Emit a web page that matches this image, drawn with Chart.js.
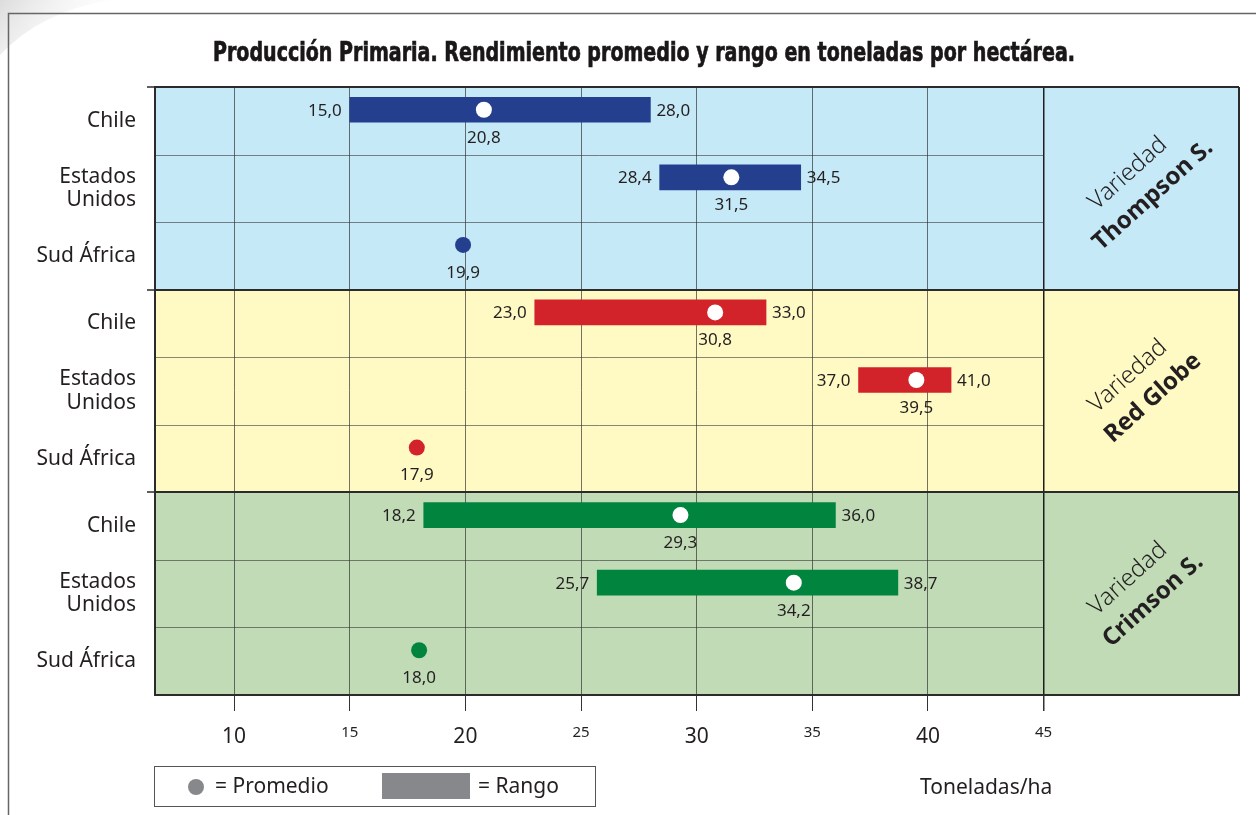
<!DOCTYPE html>
<html lang="es">
<head>
<meta charset="utf-8">
<title>Producción Primaria</title>
<script src="https://cdn.jsdelivr.net/npm/chart.js@4.4.0/dist/chart.umd.min.js"></script>
<style>
  html, body { margin: 0; padding: 0; background: #fff; }
  canvas { display: block; }
</style>
</head>
<body>
<canvas id="chart" width="1256" height="815"></canvas>
<script>
// Datos
const variedades = ['Thompson S.', 'Red Globe', 'Crimson S.'];
const paises = ['Chile', ['Estados', 'Unidos'], 'Sud África'];
const rangoMin = [15.0, 28.4, null, 23.0, 37.0, null, 18.2, 25.7, null];
const rangoMax = [28.0, 34.5, null, 33.0, 41.0, null, 36.0, 38.7, null];
const promedio = [20.8, 31.5, 19.9, 30.8, 39.5, 17.9, 29.3, 34.2, 18.0];
const ticksX = [10, 15, 20, 25, 30, 35, 40, 45];

// Estilos
const colorVariedad = ['#253f8f', '#d2232a', '#00843e'];
const fondoVariedad = ['#c6e9f8', '#fff9c4', '#c1dbb7'];
const FONT = "'Noto Sans', 'Open Sans', sans-serif";
const TITLE_FONT = "'Liberation Sans Narrow', 'DejaVu Sans Condensed', 'Liberation Sans', sans-serif";
const INK = '#231f20';
const GRIS = '#87888c';
const subir = -11; // barras y puntos van un poco arriba del centro de la fila

const filas = variedades.flatMap(() => paises);
const rangos = rangoMin.map((lo, i) => lo === null ? null : [lo, rangoMax[i]]);
const colorFila = filas.map((_, i) => colorVariedad[Math.floor(i / 3)]);
const colorPunto = promedio.map((_, i) => rangoMin[i] === null ? colorFila[i] : '#ffffff');

function coma(v) {
  return v.toFixed(1).replace('.', ',');
}

const decorado = {
  id: 'decorado',
  beforeDraw(chart) {
    const { ctx, chartArea: a, scales: { y } } = chart;
    ctx.save();
    ctx.fillStyle = '#fff';
    ctx.fillRect(0, 0, chart.width, chart.height);

    // esquina gris de la página
    let g = ctx.createLinearGradient(0, 0, 90, 70);
    g.addColorStop(0, 'rgba(205,205,205,0.7)');
    g.addColorStop(1, 'rgba(255,255,255,0)');
    ctx.fillStyle = g;
    ctx.beginPath();
    ctx.moveTo(0, 0);
    ctx.lineTo(110, 0);
    ctx.quadraticCurveTo(40, 12, 0, 55);
    ctx.closePath();
    ctx.fill();

    // marco
    ctx.strokeStyle = '#666';
    ctx.lineWidth = 1.5;
    ctx.beginPath();
    ctx.moveTo(8.5, chart.height);
    ctx.lineTo(8.5, 13.5);
    ctx.lineTo(chart.width, 13.5);
    ctx.stroke();

    // fondos por variedad
    const h = y.getPixelForValue(1) - y.getPixelForValue(0);
    variedades.forEach((v, b) => {
      const top = y.getPixelForValue(b * 3) - h / 2;
      const bot = y.getPixelForValue(b * 3 + 2) + h / 2;
      ctx.fillStyle = fondoVariedad[b];
      ctx.fillRect(a.left, top, a.right - a.left, bot - top);
    });
    ctx.restore();
  },
  beforeDatasetsDraw(chart) {
    const { ctx, chartArea: a, scales: { x, y } } = chart;
    // líneas entre filas, solo hasta 45
    ctx.save();
    ctx.strokeStyle = 'rgba(40,40,40,0.55)';
    ctx.lineWidth = 1;
    const x45 = x.getPixelForValue(45);
    for (let i = 1; i < filas.length; i++) {
      if (i % 3 === 0) continue;
      const yy = Math.round((y.getPixelForValue(i - 1) + y.getPixelForValue(i)) / 2) + 0.5;
      ctx.beginPath();
      ctx.moveTo(a.left, yy);
      ctx.lineTo(x45, yy);
      ctx.stroke();
    }
    ctx.restore();
    ctx.save();
    ctx.translate(0, subir);
  },
  afterDatasetsDraw(chart) {
    const { ctx, chartArea: a } = chart;
    const barras = chart.getDatasetMeta(0).data;
    const puntos = chart.getDatasetMeta(1).data;
    ctx.font = '17px ' + FONT;
    ctx.fillStyle = INK;
    ctx.textBaseline = 'middle';
    barras.forEach((el, i) => {
      if (rangos[i] === null) return;
      const p = el.getProps(['x', 'y', 'base'], true);
      ctx.textAlign = 'right';
      ctx.fillText(coma(rangoMin[i]), p.base - 8, p.y + 1);
      ctx.textAlign = 'left';
      ctx.fillText(coma(rangoMax[i]), p.x + 6, p.y + 1);
    });
    puntos.forEach((el, i) => {
      ctx.textAlign = 'center';
      ctx.fillText(coma(promedio[i]), el.x, el.y + 28);
    });
    ctx.restore();

    // borde derecho
    ctx.save();
    ctx.strokeStyle = '#2b2b2b';
    ctx.lineWidth = 2;
    ctx.beginPath();
    ctx.moveTo(a.right, a.top);
    ctx.lineTo(a.right, a.bottom);
    ctx.stroke();
    ctx.restore();
  },
  afterDraw(chart) {
    const { ctx, chartArea: a, scales: { x, y } } = chart;
    ctx.save();

    // título
    const titulo = 'Producción Primaria. Rendimiento promedio y rango en toneladas por hectárea.';
    ctx.font = 'bold 27px ' + TITLE_FONT;
    ctx.fillStyle = '#1a1718';
    ctx.strokeStyle = '#1a1718';
    ctx.lineWidth = 0.7;
    ctx.textAlign = 'center';
    ctx.textBaseline = 'alphabetic';
    const w = ctx.measureText(titulo).width;
    ctx.save();
    ctx.translate(644, 61);
    ctx.scale(862 / w, 1);
    ctx.fillText(titulo, 0, 0);
    ctx.strokeText(titulo, 0, 0);
    ctx.restore();

    // nombres de variedad en el panel derecho
    const cx = (x.getPixelForValue(45) + a.right) / 2;
    variedades.forEach((v, b) => {
      const cy = (y.getPixelForValue(b * 3) + y.getPixelForValue(b * 3 + 2)) / 2;
      ctx.save();
      ctx.translate(cx, cy);
      ctx.rotate(-42 * Math.PI / 180);
      ctx.textAlign = 'center';
      ctx.textBaseline = 'middle';
      ctx.fillStyle = INK;
      ctx.font = '300 24px ' + FONT;
      ctx.fillText('Variedad', 0, -20);
      ctx.font = 'bold 24px ' + FONT;
      ctx.fillText(v, 4, 13);
      ctx.restore();
    });

    // leyenda
    ctx.strokeStyle = '#555';
    ctx.lineWidth = 1;
    ctx.strokeRect(154.5, 766.5, 441, 40);
    ctx.fillStyle = GRIS;
    ctx.beginPath();
    ctx.arc(196, 787, 8, 0, Math.PI * 2);
    ctx.fill();
    ctx.fillRect(382, 773, 88, 26);
    ctx.fillStyle = INK;
    ctx.font = '21px ' + FONT;
    ctx.textAlign = 'left';
    ctx.textBaseline = 'middle';
    ctx.fillText('= Promedio', 215, 787);
    ctx.fillText('= Rango', 478, 787);
    ctx.fillText('Toneladas/ha', 920, 788);
    ctx.restore();
  }
};

new Chart(document.getElementById('chart'), {
  type: 'bar',
  data: {
    labels: filas,
    datasets: [
      {
        type: 'bar',
        data: rangos,
        backgroundColor: colorFila,
        borderWidth: 0,
        borderSkipped: false,
        barThickness: 25,
        order: 1
      },
      {
        type: 'line',
        indexAxis: 'y',
        data: promedio,
        showLine: false,
        pointStyle: 'circle',
        pointRadius: 8,
        pointHoverRadius: 8,
        pointBorderWidth: 0,
        pointBackgroundColor: colorPunto,
        pointBorderColor: colorPunto,
        order: 0
      }
    ]
  },
  options: {
    indexAxis: 'y',
    responsive: false,
    animation: false,
    events: [],
    layout: { padding: { top: 87, right: 17, bottom: 0, left: 0 } },
    plugins: {
      legend: { display: false },
      title: { display: false },
      tooltip: { enabled: false }
    },
    scales: {
      x: {
        type: 'linear',
        min: 6.58,
        max: 53.45,
        afterBuildTicks: s => { s.ticks = ticksX.map(v => ({ value: v })); },
        afterFit: s => { s.height = 120; },
        border: { display: true, color: '#2b2b2b', width: 2 },
        grid: {
          color: c => c.tick && c.tick.value === 45 ? '#1e1e1e' : 'rgba(30,30,30,0.62)',
          lineWidth: c => c.tick && c.tick.value === 45 ? 1.5 : 1,
          tickColor: '#333',
          tickLength: 16
        },
        ticks: {
          padding: 13,
          color: INK,
          callback: v => String(v),
          font: c => ({ family: FONT, size: c.tick && c.tick.value % 10 === 0 ? 21 : 15 })
        }
      },
      y: {
        type: 'category',
        offset: true,
        afterFit: s => { s.width = 155; },
        border: { display: true, color: '#2b2b2b', width: 2 },
        grid: {
          offset: true,
          color: c => (c.index !== undefined && c.index % 3 === 0) ? '#2b2b2b' : 'rgba(0,0,0,0)',
          tickColor: c => (c.index !== undefined && c.index % 3 === 0) ? '#2b2b2b' : 'rgba(0,0,0,0)',
          lineWidth: 2,
          tickWidth: 1.5,
          tickLength: 8
        },
        ticks: {
          padding: 11,
          color: INK,
          font: { family: FONT, size: 21, lineHeight: 1.1 }
        }
      }
    }
  },
  plugins: [decorado]
});
</script>
</body>
</html>
